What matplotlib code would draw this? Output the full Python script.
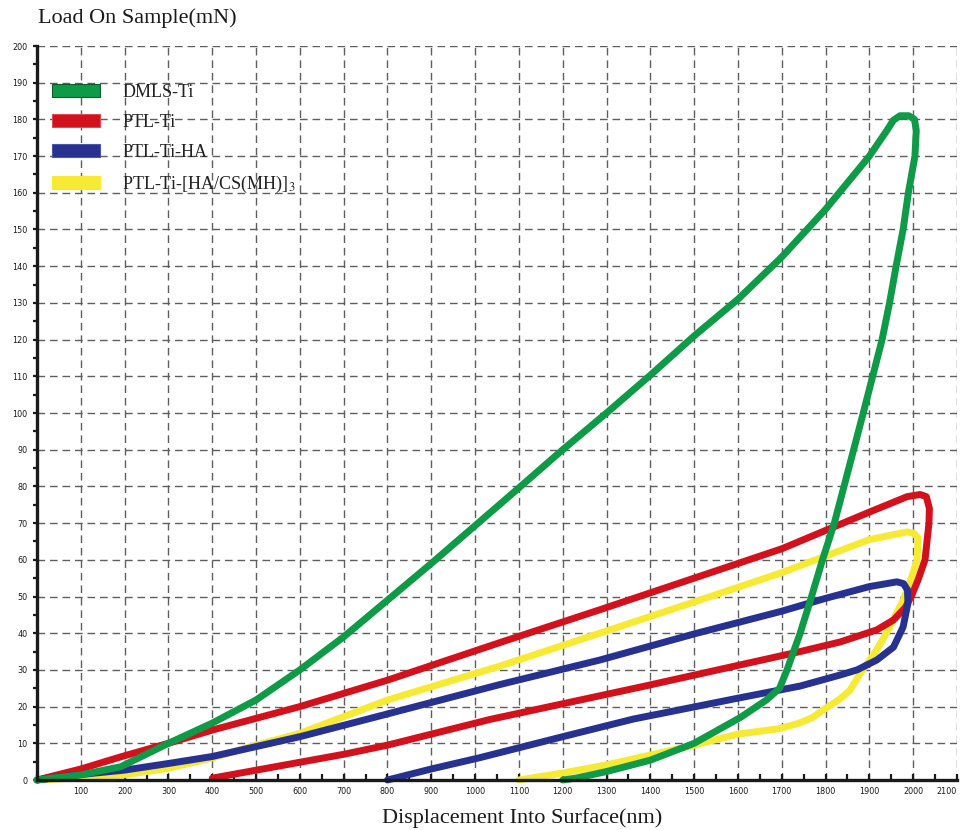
import matplotlib
matplotlib.use("Agg")
import matplotlib.pyplot as plt
from matplotlib.patches import Patch
from matplotlib.ticker import MultipleLocator, FixedLocator

# ---------------- data ----------------
series_names = ["DMLS-Ti", "PTL-Ti", "PTL-Ti-HA", "PTL-Ti-[HA/CS(MH)]$_3$"]

dmls_load_x = [0, 100, 191, 300, 400, 500, 600, 700, 800, 900, 1000, 1100, 1200,
               1300, 1400, 1500, 1600, 1700, 1800, 1900, 1940, 1955, 1970]
dmls_load_y = [0, 1.4, 3.6, 10, 15.5, 21.8, 30, 39, 49, 59, 69.3, 79.6, 90,
               100, 110.3, 121, 131, 142.5, 155.5, 170, 177, 179.8, 181]
dmls_unload_x = [1990, 2003, 2007, 2004, 1989, 1977, 1961, 1946, 1929, 1886, 1852, 1820,
                 1793, 1768, 1742, 1712, 1695, 1665, 1605, 1500, 1400, 1300, 1230, 1200]
dmls_unload_y = [181, 180, 177, 170, 160, 150, 140, 130, 120, 100, 84.5, 70,
                 60, 50, 40, 30, 25, 21.8, 17, 10, 5.4, 2.3, 0.5, 0]

ptl_load_x = [0, 100, 191, 300, 400, 600, 800, 1053, 1285, 1500, 1700, 1800, 1900, 1986, 2016]
ptl_load_y = [0, 3, 6.3, 10, 13.6, 20, 27.2, 37.3, 46.4, 55, 63, 68, 73, 77.2, 77.8]
ptl_unload_x = [2030, 2037, 2036, 2027, 2011, 1997, 1982, 1955, 1917, 1833, 1742, 1388, 1034, 800, 700, 400]
ptl_unload_y = [77.2, 74, 70, 60, 54.5, 50.4, 47, 43.6, 40.9, 37.6, 35, 25.6, 16.5, 9.5, 7, 0.5]

ha_load_x = [0, 100, 200, 300, 400, 600, 800, 1053, 1285, 1500, 1700, 1800, 1900, 1963]
ha_load_y = [0, 1.5, 2.7, 4.5, 6.4, 11.8, 18, 25.9, 32.7, 39.8, 46, 49.5, 52.7, 54]
ha_unload_x = [1978, 1987, 1988, 1977, 1955, 1917, 1872, 1833, 1742, 1600, 1361, 1200, 1008, 900, 800]
ha_unload_y = [53.5, 51.8, 48.2, 41.7, 36.2, 32.7, 30, 28.6, 25.6, 22.3, 16.6, 11.8, 6, 3, 0]

cs_load_x = [0, 100, 200, 300, 400, 500, 600, 800, 1053, 1285, 1500, 1700, 1800, 1900, 1986]
cs_load_y = [0, 0.6, 1.4, 3.2, 6, 9.5, 12.7, 21.8, 30.9, 40, 48.5, 56.5, 61, 65.5, 67.6]
cs_unload_x = [2002, 2011, 2009, 1997, 1977, 1947, 1917, 1879, 1856, 1832, 1800, 1770, 1740,
               1695, 1600, 1500, 1400, 1300, 1200, 1100]
cs_unload_y = [67.2, 66, 60, 55.4, 49, 41.8, 35.5, 29, 24.5, 22, 19.5, 17, 15.5,
               14, 12.5, 9.5, 6.8, 4.1, 1.9, 0]

x_tick_values = list(range(100, 2101, 100))
y_tick_values = list(range(0, 201, 10))

colors = ["#0e9a47", "#d3111c", "#263190", "#f6ea34"]
edge_colors = ["#0b5e2c", "#e04a50", "#4a56a8", "#f6ea34"]

# ---------------- figure ----------------
plt.rcParams['mathtext.fontset'] = 'stix'
fig = plt.figure(figsize=(9.64, 8.30), dpi=100)
ax = fig.add_axes([37/964, 50/830, 920/964, 734/830])

curves = [
    (dmls_load_x + dmls_unload_x, dmls_load_y + dmls_unload_y, 5),
    (ptl_load_x + ptl_unload_x, ptl_load_y + ptl_unload_y, 3),
    (ha_load_x + ha_unload_x, ha_load_y + ha_unload_y, 4),
    (cs_load_x + cs_unload_x, cs_load_y + cs_unload_y, 2),
]
for (xs, ys, z), c in zip(curves, colors):
    ax.plot(xs, ys, color=c, lw=5, solid_joinstyle='round',
            solid_capstyle='round', zorder=z, clip_on=False)

ax.set_xlim(0, 2100)
ax.set_ylim(0, 200)

ax.xaxis.set_major_locator(FixedLocator(x_tick_values))
ax.yaxis.set_major_locator(FixedLocator(y_tick_values))
ax.xaxis.set_minor_locator(MultipleLocator(50))
ax.yaxis.set_minor_locator(MultipleLocator(5))

tick_font = dict(family='DejaVu Sans', stretch='condensed', size=6.5)
xlabels = ax.set_xticklabels([str(v) for v in x_tick_values], fontdict=tick_font)
ax.set_yticklabels([str(v) for v in y_tick_values], fontdict=tick_font)
xlabels[-1].set_horizontalalignment('right')

ax.tick_params(axis='x', which='both', direction='in', length=4, width=1.6,
               pad=5, colors='#1a1a1a')
ax.tick_params(axis='y', which='both', direction='out', length=3, width=1.6,
               pad=4, colors='#1a1a1a')

for s in ['top', 'right']:
    ax.spines[s].set_visible(False)
for s in ['left', 'bottom']:
    ax.spines[s].set_linewidth(2.4)
    ax.spines[s].set_color('#1a1a1a')
    ax.spines[s].set_zorder(6)

ax.grid(True, which='major', color='#5f5f5f', lw=1.0,
        linestyle=(0, (5.5, 3.5)), zorder=0)
ax.set_axisbelow(True)

handles = [Patch(facecolor=c, edgecolor=e, lw=0.8) for c, e in zip(colors, edge_colors)]
leg = ax.legend(handles, series_names, loc='upper left',
                bbox_to_anchor=(15/920, (734 - 38)/734), frameon=False,
                borderaxespad=0, borderpad=0, handlelength=2.65, handleheight=0.75,
                handletextpad=1.25, labelspacing=0.72,
                prop=dict(family='Liberation Serif', size=13))
for t in leg.get_texts():
    t.set_color('#222222')

fig.text(38/964, 1 - 18/830, "Load On Sample(mN)", family='Liberation Serif',
         fontsize=16, va='center', ha='left', color='#1a1a1a')
fig.text(522/964, 1 - 818/830, "Displacement Into Surface(nm)", family='Liberation Serif',
         fontsize=16, va='center', ha='center', color='#1a1a1a')

fig.savefig("out.png", dpi=100)
